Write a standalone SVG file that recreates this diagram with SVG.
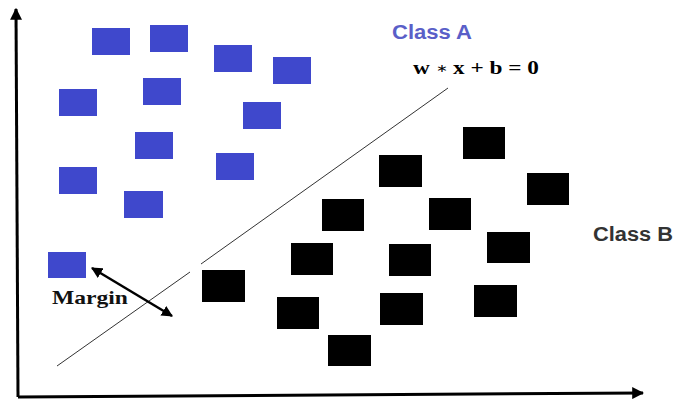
<svg xmlns="http://www.w3.org/2000/svg" width="673" height="400" viewBox="0 0 673 400">
<style>
.a{fill:#3f48cc}
.b{fill:#000}
.ax{stroke:#000;stroke-width:3;fill:none}
.hp{stroke:#333;stroke-width:1;fill:none}
.lbl{font-family:"Liberation Sans",Arial,sans-serif;font-weight:bold;font-size:20px}
.ser{font-family:"Liberation Serif","Times New Roman",serif;font-weight:bold}
</style>
<defs>
<marker id="ah" viewBox="0 0 10 10" refX="9" refY="5" markerWidth="4" markerHeight="4" orient="auto-start-reverse">
<path d="M0,0 L10,5 L0,10 z" fill="#000"/>
</marker>
<marker id="mh" viewBox="0 0 10 10" refX="9" refY="5" markerWidth="4.5" markerHeight="4.5" orient="auto-start-reverse">
<path d="M0,0 L10,5 L0,10 z" fill="#000"/>
</marker>
</defs>
<rect width="673" height="400" fill="#fff"/>
<g id="connectors">
<path class="ax" d="M18,397 L16,9" marker-end="url(#ah)"/>
<path class="ax" d="M18,397 L643,393" marker-end="url(#ah)"/>
<path class="hp" d="M57,366 L190,272 M201,264 L448,88"/>
<path d="M92,268 L172,316" stroke="#000" stroke-width="2.5" marker-start="url(#mh)" marker-end="url(#mh)"/>
</g>
<g id="classA">
<rect id="a1" class="a" x="92" y="28" width="38" height="27"/>
<rect id="a2" class="a" x="150" y="25" width="38" height="27"/>
<rect id="a3" class="a" x="214" y="45" width="38" height="27"/>
<rect id="a4" class="a" x="273" y="57" width="38" height="27"/>
<rect id="a5" class="a" x="59" y="89" width="38" height="27"/>
<rect id="a6" class="a" x="143" y="78" width="38" height="27"/>
<rect id="a7" class="a" x="243" y="102" width="38" height="27"/>
<rect id="a8" class="a" x="135" y="132" width="38" height="27"/>
<rect id="a9" class="a" x="59" y="167" width="38" height="27"/>
<rect id="a10" class="a" x="216" y="153" width="38" height="27"/>
<rect id="a11" class="a" x="124" y="191" width="39" height="27"/>
<rect id="a12" class="a" x="48" y="252" width="38" height="26"/>
</g>
<g id="classB">
<rect id="b1" class="b" x="463" y="127" width="42" height="32"/>
<rect id="b2" class="b" x="379" y="155" width="43" height="32"/>
<rect id="b3" class="b" x="527" y="173" width="42" height="32"/>
<rect id="b4" class="b" x="322" y="199" width="42" height="32"/>
<rect id="b5" class="b" x="429" y="198" width="42" height="32"/>
<rect id="b6" class="b" x="291" y="243" width="42" height="32"/>
<rect id="b7" class="b" x="389" y="244" width="42" height="32"/>
<rect id="b8" class="b" x="487" y="232" width="43" height="31"/>
<rect id="b9" class="b" x="202" y="270" width="43" height="32"/>
<rect id="b10" class="b" x="277" y="297" width="42" height="32"/>
<rect id="b11" class="b" x="380" y="293" width="43" height="32"/>
<rect id="b12" class="b" x="474" y="285" width="43" height="32"/>
<rect id="b13" class="b" x="328" y="335" width="43" height="31"/>
</g>
<g id="labels">
<text class="lbl" x="392" y="39" fill="#5a5fc8" textLength="80" lengthAdjust="spacingAndGlyphs">Class A</text>
<text class="lbl" x="593" y="241" fill="#333" textLength="80" lengthAdjust="spacingAndGlyphs">Class B</text>
<text class="ser" x="413" y="74" font-size="18" textLength="126" lengthAdjust="spacingAndGlyphs">w <tspan font-weight="normal" font-size="11" dy="-2">∗</tspan><tspan dy="2"> x + b = 0</tspan></text>
<text class="ser" x="52" y="304" font-size="19" fill="#111" textLength="76" lengthAdjust="spacingAndGlyphs">Margin</text>
</g>
</svg>
